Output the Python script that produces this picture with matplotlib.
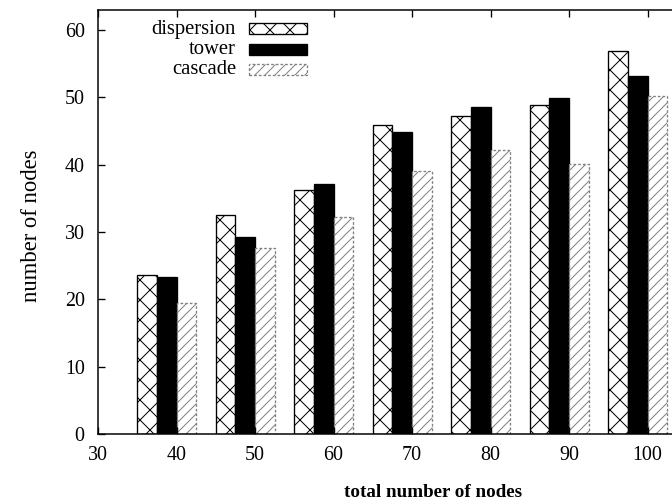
import numpy as np
import matplotlib
matplotlib.use('Agg')
import matplotlib.pyplot as plt
from matplotlib.patches import Rectangle

plt.rcParams.update({
    'font.family': ['Liberation Serif', 'DejaVu Serif'],
    'font.size': 12,
    'hatch.linewidth': 0.6,
    'xtick.direction': 'in',
    'ytick.direction': 'in',
})

# data
totals = [40, 50, 60, 70, 80, 90, 100]
dispersion = [23.6, 32.6, 36.3, 45.9, 47.2, 48.9, 56.9]
tower = [23.4, 29.2, 37.1, 44.9, 48.6, 49.9, 53.2]
cascade = [19.5, 27.6, 32.3, 39.1, 42.2, 40.1, 50.2]
series_names = ['dispersion', 'tower', 'cascade']

W, H = 672, 500
fig = plt.figure(figsize=(W / 120, H / 120), dpi=120)
# axes run past the right edge like the cropped original
ax = fig.add_axes([98 / W, 66 / H, 628 / W, 424 / H])

x = np.array(totals, dtype=float)
bw = 2.5
styles = [
    dict(facecolor='white', edgecolor='black', hatch='xx', linewidth=0.8),
    dict(facecolor='black', edgecolor='black', linewidth=0.8),
    dict(facecolor='white', edgecolor='0.5', hatch='////', linewidth=0.8, linestyle=(0, (2, 1.5))),
]
for vals, off, st in zip([dispersion, tower, cascade], [-2 * bw, -bw, 0], styles):
    ax.bar(x + off, vals, width=bw, align='edge', **st)

ax.set_xlim(30, 110)
ax.set_ylim(0, 63)
ax.set_xticks(range(30, 101, 10))
ax.set_yticks(range(0, 61, 10))
ax.tick_params(axis='both', length=4, width=0.8, labelsize=12)
ax.tick_params(axis='x', top=True, pad=7)
ax.tick_params(axis='y', pad=8)
for s in ax.spines.values():
    s.set_linewidth(0.9)

ax.set_xlabel('total number of nodes', fontweight='bold', fontsize=11.4)
ax.xaxis.set_label_coords((433 - 98) / 628, (434 - 497) / 424)
ax.xaxis.label.set_va('baseline')
ax.set_ylabel('number of nodes', fontsize=13.6)
ax.yaxis.set_label_coords((32 - 98) / 628, (434 - 226) / 424)
ax.yaxis.label.set_va('center')

# key, drawn in figure pixels
rows_y = [29, 50, 70]
for name, yy, st in zip(series_names, rows_y, styles):
    fig.text(236 / W, 1 - yy / H, name, ha='right', va='center', fontsize=12.4)
    fig.add_artist(Rectangle((249 / W, 1 - (yy + 5.5) / H), 58 / W, 11 / H,
                             transform=fig.transFigure, **st))

fig.savefig('out.png', dpi=120)
